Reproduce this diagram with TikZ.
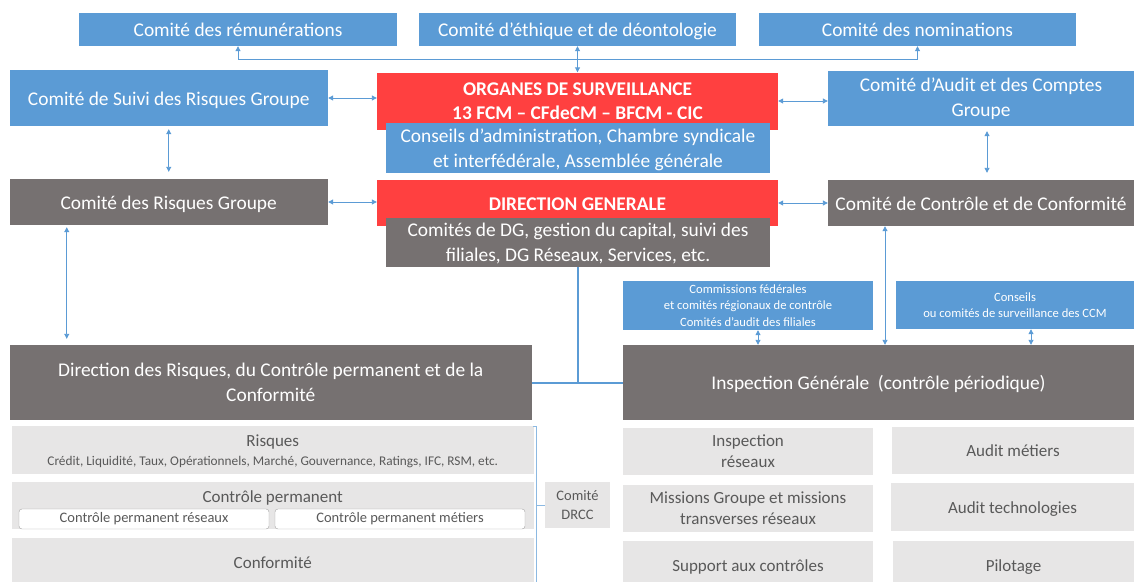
\documentclass[tikz,border=0pt]{standalone}
\usepackage{fontspec}
\setmainfont{Carlito}
\usetikzlibrary{arrows.meta, positioning, calc}
\definecolor{boxblue}{RGB}{91,155,213}
\definecolor{boxred}{RGB}{255,64,64}
\definecolor{boxgrey}{RGB}{118,113,113}
\definecolor{lightgrey}{RGB}{231,230,230}
\definecolor{textgrey}{RGB}{89,89,89}
\definecolor{linkblue}{RGB}{91,155,213}
\definecolor{subline}{RGB}{166,166,166}

\newcommand{\fsbig}{\fontsize{19.4}{24.5}\selectfont}
\newcommand{\fsmid}{\fontsize{17}{21}\selectfont}
\newcommand{\fssmall}{\fontsize{12.6}{16.3}\selectfont}
\newcommand{\fstiny}{\fontsize{13.3}{15}\selectfont}
\newcommand{\fssub}{\fontsize{14.5}{17}\selectfont}
\newcommand{\fsdrcc}{\fontsize{14.5}{19}\selectfont}

\tikzset{
  wh/.style 2 args={minimum width=#1pt, minimum height=#2pt},
  box/.style={rectangle, inner sep=0pt, align=center, text=white, font=\fsbig},
  bluebox/.style={box, fill=boxblue},
  redbox/.style={box, fill=boxred, font=\fsbig\bfseries},
  greybox/.style={box, fill=boxgrey},
  lightbox/.style={box, fill=lightgrey, text=textgrey, font=\fsmid},
  subbox/.style={box, fill=white, draw=subline, rounded corners=3pt, text=textgrey, font=\fssub},
  bigline/.style={text height=19pt, text depth=5pt},
  midline/.style={text height=16.5pt, text depth=4.2pt},
  link/.style={draw=linkblue, line width=0.9pt, {Triangle[length=5pt,width=5pt]}-{Triangle[length=5pt,width=5pt]}},
  trunk/.style={draw=linkblue, line width=2pt},
  bracket/.style={draw=linkblue!70, line width=0.9pt}
}

\begin{document}
\begin{tikzpicture}[x=1pt, y=-1pt]
        \useasboundingbox (0,0) rectangle (1134,581);

        % Comites specialises
        \node[bluebox, bigline, wh={318}{33}] (remun) at (238,29.5) {Comité des rémunérations};
        \node[bluebox, bigline, wh={317}{33}] (ethique) at (577.5,29.5) {Comité d’éthique et de déontologie};
        \node[bluebox, bigline, wh={317}{33}] (nomin) at (917.5,29.5) {Comité des nominations};

        % Organes de surveillance
        \node[bluebox, bigline, wh={318.5}{56}] (suivi) at (168.75,98) {Comité de Suivi des Risques Groupe};
        \node[redbox, wh={401}{57}] (organes) at (577.5,101) {ORGANES DE SURVEILLANCE\\13 FCM – CFdeCM – BFCM - CIC};
        \node[bluebox, text depth=0pt, wh={384}{50}] (conseilsca) at (578,148) {Conseils d’administration, Chambre syndicale\\et interfédérale, Assemblée générale};
        \node[bluebox, wh={306}{55}] (audit) at (981,98.5) {Comité d’Audit et des Comptes\\Groupe};

        % Direction generale
        \node[greybox, bigline, wh={318.5}{46}] (risquesgrp) at (168.75,202) {Comité des Risques Groupe};
        \node[redbox, bigline, wh={401}{46}] (dg) at (577.5,203) {DIRECTION GENERALE};
        \node[greybox, text depth=0pt, wh={384}{49}] (comitesdg) at (578,242.5) {Comités de DG, gestion du capital, suivi des\\filiales, DG Réseaux, Services, etc.};
        \node[greybox, bigline, wh={306}{46}] (controle) at (981,203) {Comité de Contrôle et de Conformité};

        % Comites de controle du reseau
        \node[bluebox, wh={250}{49}, font=\fssmall] (commissions) at (748,305.5) {Commissions fédérales\\et comités régionaux de contrôle\\Comités d’audit des filiales};
        \node[bluebox, wh={238}{48}, font=\fssmall] (conseilsccm) at (1015,305) {Conseils\\ou comités de surveillance des CCM};

        % Filieres de controle
        \node[greybox, wh={522.5}{75}] (drisques) at (270.75,382.5) {Direction des Risques, du Contrôle permanent et de la\\Conformité};
        \node[greybox, bigline, wh={511}{75}] (inspection) at (878.5,382.5) {Inspection Générale \ (contrôle périodique)};

        % Controle permanent
        \node[lightbox, text depth=0pt, wh={522.5}{48}] (risques) at (272.75,450) {Risques\\[-2pt]{\fstiny Crédit, Liquidité, Taux, Opérationnels, Marché, Gouvernance, Ratings, IFC, RSM, etc.}};
        \node[lightbox, wh={522.5}{47}] (ctrlperm) at (272.75,505.5) {};
        \node[text=textgrey, font=\fsmid, inner sep=0pt] (ctrlpermtitle) at (272.75,497.5) {Contrôle permanent};
        \node[subbox, wh={250}{20}] (cpres) at (144,519) {Contrôle permanent réseaux};
        \node[subbox, wh={250}{20}] (cpmet) at (400,519) {Contrôle permanent métiers};
        \node[lightbox, midline, wh={522.5}{48}] (conform) at (272.75,562) {Conformité};
        \node[lightbox, wh={65}{46}, font=\fsdrcc] (comitedrcc) at (577.5,505) {Comité\\DRCC};

        % Controle periodique
        \node[lightbox, wh={250}{47}] (inspres) at (748,451.5) {Inspection\\réseaux};
        \node[lightbox, midline, wh={242}{47}] (auditmet) at (1013,450.5) {Audit métiers};
        \node[lightbox, wh={250}{47}] (missions) at (748,508.5) {Missions Groupe et missions\\transverses réseaux};
        \node[lightbox, midline, wh={243}{48}] (audittech) at (1012.5,507) {Audit technologies};
        \node[lightbox, midline, wh={250}{48}] (support) at (748,565) {Support aux contrôles};
        \node[lightbox, midline, wh={241}{48}] (pilotage) at (1013.5,565) {Pilotage};

        % Liaisons
        \coordinate (bus) at ($(ethique.south)+(0,13)$);
        \draw[link] (remun.south) |- (bus) -| (nomin.south);
        \draw[link] (ethique.south) -- (organes.north);
        \draw[link] (suivi.east) -- (suivi.east -| organes.west);
        \draw[link] (organes.east) -- (organes.east -| audit.west);
        \draw[link, shorten <=3pt, shorten >=7pt] (suivi.south) -- (risquesgrp.north);
        \draw[link, shorten <=5pt, shorten >=7pt] ([xshift=6pt]audit.south) -- ([xshift=6pt]controle.north);
        \draw[link] (risquesgrp.east) -- (risquesgrp.east -| dg.west);
        \draw[link] (dg.east) -- (dg.east -| controle.west);
        \draw[link, shorten <=2pt, shorten >=6pt] ([xshift=-102pt]risquesgrp.south) -- ([xshift=-102pt]risquesgrp.south |- drisques.north);
        \draw[link] ([xshift=-96pt]controle.south) -- ([xshift=-96pt]controle.south |- inspection.north);
        \draw[link] ([xshift=10pt]commissions.south) -- ([xshift=10pt]commissions.south |- inspection.north);
        \draw[link] ([xshift=16pt]conseilsccm.south) -- ([xshift=16pt]conseilsccm.south |- inspection.north);
        \draw[trunk] (comitesdg.south) -- (comitesdg.south |- inspection.west);
        \draw[trunk] (drisques.east) -- (inspection.west);

        % Accolade DRCC
        \draw[bracket] (risques.north east) ++(-1,1) -- ++(3,0) -- ++(0,160);
        \draw[bracket] (comitedrcc.west) -- ++(-9,0);
    \end{tikzpicture}
\end{document}
